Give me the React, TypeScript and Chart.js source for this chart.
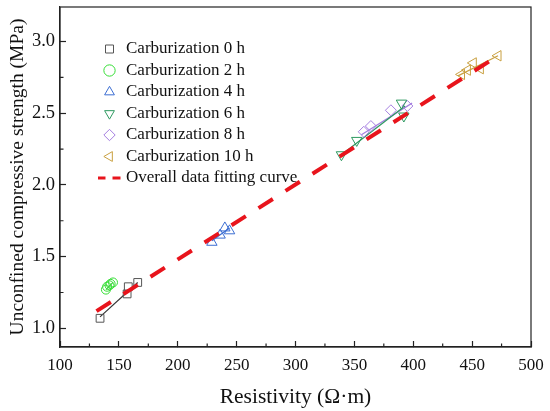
import React, { useEffect, useRef } from "react";
import Chart from "chart.js/auto";

// resistivity (Ω·m) and UCS (MPa) per carburization time
const hours = ["0", "2", "4", "6", "8", "10"];
const res0 = [134, 157, 158, 166];
const ucs0 = [1.07, 1.24, 1.29, 1.32];
const res2 = [139, 140, 142, 143, 145];
const ucs2 = [1.27, 1.29, 1.3, 1.31, 1.32];
const res4 = [229, 236, 240, 244];
const ucs4 = [1.6, 1.65, 1.7, 1.68];
const res6 = [339, 352, 390, 392];
const ucs6 = [2.21, 2.31, 2.57, 2.48];
const res8 = [358, 364, 381, 395];
const ucs8 = [2.37, 2.41, 2.52, 2.55];
const res10 = [441, 446, 451, 457, 472];
const ucs10 = [2.77, 2.8, 2.85, 2.81, 2.9];

// fitted lines (end points) for every group, then the overall fit
const fitRes = [[134, 166], [139, 145], [229, 244], [339, 393], [356, 399], [438, 472]];
const fitUcs = [[1.08, 1.32], [1.27, 1.32], [1.61, 1.7], [2.21, 2.55], [2.35, 2.57], [2.76, 2.9]];
const overallRes = [131, 472];
const overallUcs = [1.12, 2.9];

const xMinor = [125, 175, 225, 275, 325, 375, 425, 475];
const yMinor = [1.25, 1.75, 2.25, 2.75];

const groupRes = [res0, res2, res4, res6, res8, res10];
const groupUcs = [ucs0, ucs2, ucs4, ucs6, ucs8, ucs10];
const colors = ["#555555", "#33dd33", "#3c6ed2", "#2e9960", "#a57fe0", "#c9a040"];
const fitColors = ["#333333", "#33cc33", "#3c6ed2", "#2e9960", "#a57fe0", "#c9a040"];
const styles = ["rect", "circle", "triangle", "triangle", "rectRot", "triangle"];
const rotations = [0, 0, 0, 180, 0, -90];
const radii = [5.5, 4.5, 6, 6, 5.5, 6];
const red = "#e8141c";

const toPoints = (xs: number[], ys: number[]) => xs.map((x, i) => ({ x, y: ys[i] }));

const framePlugin = {
  id: "frame",
  afterLayout(chart: any) {
    // move the legend into the upper left of the plot
    const lg = chart.legend;
    if (lg) {
      lg.left += 37;
      lg.top += 36;
    }
  },
  afterDraw(chart: any) {
    const { ctx, chartArea: a, scales } = chart;
    ctx.save();
    ctx.strokeStyle = "#222";
    ctx.lineWidth = 1.2;
    ctx.strokeRect(a.left, a.top, a.right - a.left, a.bottom - a.top);
    ctx.beginPath();
    xMinor.forEach((v) => {
      const px = scales.x.getPixelForValue(v);
      ctx.moveTo(px, a.bottom);
      ctx.lineTo(px, a.bottom - 3.5);
    });
    yMinor.forEach((v) => {
      const py = scales.y.getPixelForValue(v);
      ctx.moveTo(a.left, py);
      ctx.lineTo(a.left + 3.5, py);
    });
    ctx.stroke();
    ctx.restore();
  },
};

const App: React.FC = () => {
  const chartRef = useRef<HTMLCanvasElement | null>(null);

  useEffect(() => {
    document.body.style.margin = "0";
    if (!chartRef.current) return;
    const ctx = chartRef.current.getContext("2d");
    if (!ctx) return;

    // two red dashes for the legend entry of the overall fit
    const dash = document.createElement("canvas");
    dash.width = 24;
    dash.height = 4;
    const dctx = dash.getContext("2d");
    if (dctx) {
      dctx.fillStyle = red;
      dctx.fillRect(0, 0.5, 8, 3);
      dctx.fillRect(15, 0.5, 8, 3);
    }

    Chart.defaults.font.family = "'Liberation Serif', 'Times New Roman', serif";
    Chart.defaults.color = "#111";

    const scatterSets = hours.map((h, i) => ({
      type: "scatter" as const,
      label: `Carburization ${h} h`,
      data: toPoints(groupRes[i], groupUcs[i]),
      pointStyle: styles[i],
      rotation: rotations[i],
      pointRotation: rotations[i],
      pointRadius: radii[i],
      pointBorderWidth: 1,
      borderColor: colors[i],
      backgroundColor: "rgba(0,0,0,0)",
      order: 1,
    }));

    const overallSet = {
      type: "line" as const,
      label: "Overall data fitting curve",
      data: toPoints(overallRes, overallUcs),
      borderColor: red,
      backgroundColor: red,
      borderWidth: 4,
      borderDash: [17, 15],
      pointRadius: 0,
      pointStyle: dash,
      order: 0,
    };

    const fitSets = fitRes.map((xs, i) => ({
      type: "line" as const,
      label: `fit ${hours[i]} h`,
      data: toPoints(xs, fitUcs[i]),
      borderColor: fitColors[i],
      borderWidth: 1.2,
      pointRadius: 0,
      order: 2,
    }));

    const chart = new Chart(ctx, {
      type: "scatter",
      data: { datasets: [...scatterSets, overallSet, ...fitSets] as any },
      options: {
        responsive: true,
        maintainAspectRatio: false,
        animation: false,
        layout: { padding: { top: 7, right: 19, left: 0, bottom: 0 } },
        plugins: {
          tooltip: { enabled: false },
          legend: {
            position: "chartArea",
            align: "start",
            labels: {
              usePointStyle: true,
              boxWidth: 16,
              boxHeight: 8,
              padding: 4.5,
              color: "#111",
              font: { size: 17 },
              filter: (item: any) => item.datasetIndex <= 6,
              sort: (a: any, b: any) => a.datasetIndex - b.datasetIndex,
            },
          },
        },
        scales: {
          x: {
            type: "linear",
            min: 100,
            max: 500,
            afterFit: (s: any) => {
              s.height = 64;
              s.paddingLeft = 0;
              s.paddingRight = 0;
            },
            ticks: { stepSize: 50, padding: 14, color: "#111", font: { size: 17 } },
            grid: {
              drawOnChartArea: false,
              tickLength: -6,
              tickColor: "#222",
              tickWidth: 1.2,
            },
            border: { color: "#222", width: 1.2 },
            title: {
              display: true,
              text: "Resistivity (Ω·m)",
              color: "#111",
              font: { size: 21.5 },
              padding: { top: 0, bottom: 1 },
            },
          },
          y: {
            type: "linear",
            min: 0.87,
            max: 3.24,
            afterFit: (s: any) => {
              s.width = 60;
              s.paddingTop = 0;
              s.paddingBottom = 0;
            },
            ticks: {
              stepSize: 0.5,
              includeBounds: false,
              padding: 11,
              color: "#111",
              font: { size: 18.5 },
              callback: (v: any) => Number(v).toFixed(1),
            },
            grid: {
              drawOnChartArea: false,
              tickLength: -6,
              tickColor: "#222",
              tickWidth: 1.2,
            },
            border: { color: "#222", width: 1.2 },
            title: {
              display: true,
              text: "Unconfined compressive strength (MPa)",
              color: "#111",
              font: { size: 19.5 },
              padding: { top: 6.5, bottom: 0 },
            },
          },
        },
      },
      plugins: [framePlugin],
    });

    return () => {
      chart.destroy();
    };
  }, []);

  return (
    <div style={{ width: 550, height: 411, position: "relative" }}>
      <canvas ref={chartRef} />
    </div>
  );
};

export default App;
